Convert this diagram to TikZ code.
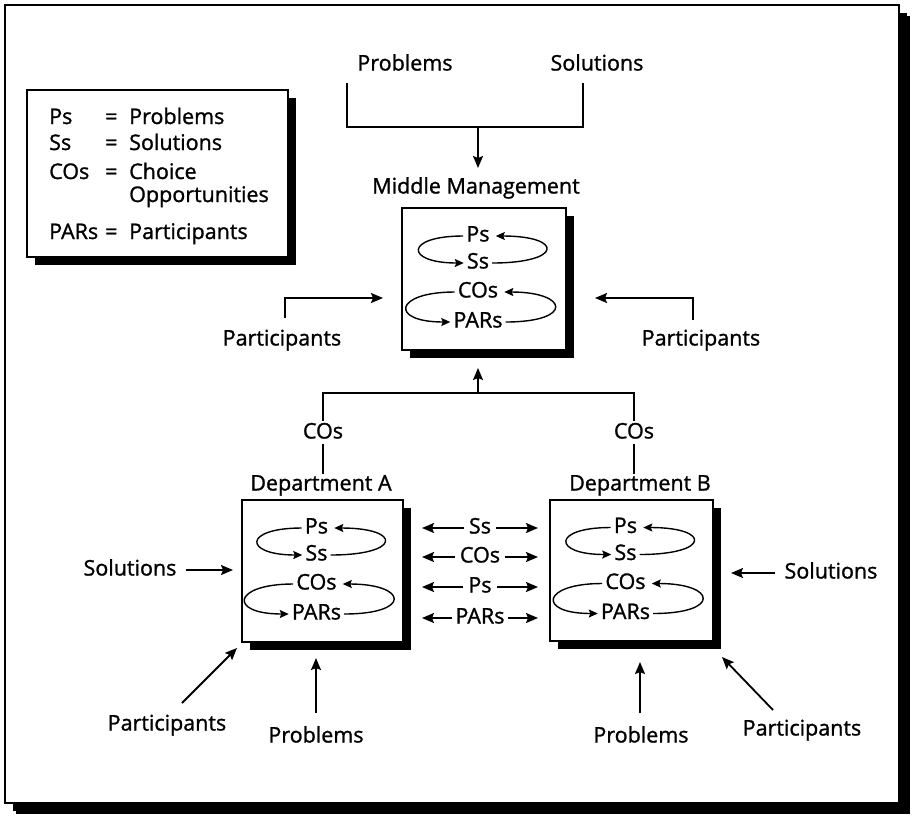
\documentclass[tikz,border=0pt]{standalone}
\usepackage{fontspec}
\setmainfont{Open Sans}[UprightFeatures={FakeBold=1.2}]
\usetikzlibrary{arrows.meta,calc,shadows}

% Ps/Ss and COs/PARs exchange loops inside a unit panel
% #1 = name prefix, #2 = panel node
\newcommand\cyclepair[2]{%
  \path (#2.center) ++(-6,-43) node[txt] (#1ps) {Ps}
        (#2.center) ++(-6,-16) node[txt] (#1ss) {Ss}
        (#2.center) ++(-6,13)  node[txt] (#1cos) {COs}
        (#2.center) ++(-6,43)  node[txt] (#1par) {PARs};
  \draw[cyc] (#1ps.west) .. controls +(-61,0) and +(-61,0) .. (#1ss.west);
  \draw[cyc, shorten >=5pt] (#1ss.east) .. controls +(73,0) and +(73,0) .. (#1ps.east);
  \draw[cyc] (#1cos.west) .. controls +(-63,0) and +(-63,0) .. (#1par.west);
  \draw[cyc, shorten >=5pt] (#1par.east) .. controls +(70,0) and +(70,0) .. (#1cos.east);
}

\begin{document}
\begin{tikzpicture}[x=1pt,y=-1pt,
  txt/.style={font=\fontsize{21.5}{24}\selectfont, inner sep=1pt,
              text height=15.5pt, text depth=4.5pt},
  plain/.style={line width=1.8pt},
  conn/.style={line width=1.8pt, -{Stealth[length=12pt,width=10pt,inset=2pt]}},
  cyc/.style={line width=1.4pt, shorten <=2pt, shorten >=2pt,
              -{Stealth[length=9pt,width=8pt,inset=1.5pt]}},
  panel/.style={draw, line width=2pt, fill=white, inner sep=0pt,
                drop shadow={shadow xshift=8pt, shadow yshift=-8pt,
                             fill=black, opacity=1}},
]
\useasboundingbox (0,0) rectangle (914,815);

% outer frame
\node[panel, minimum width=894pt, minimum height=798pt,
      drop shadow={shadow xshift=11pt, shadow yshift=-11pt, fill=black, opacity=1}]
      (frame) at (452,404) {};

% legend
\node[panel, minimum width=261pt, minimum height=167pt] (legend) at (157.5,173.5) {};
\node[txt, anchor=base west] (k1) at (48,124) {Ps};
\node[txt, anchor=base west] (e1) at (104,124) {=};
\node[txt, anchor=base west] (v1) at (128,124) {Problems};
\node[txt, anchor=base west] (k2) at (48,150) {Ss};
\node[txt, anchor=base west] (e2) at (104,150) {=};
\node[txt, anchor=base west] (v2) at (128,150) {Solutions};
\node[txt, anchor=base west] (k3) at (48,179) {COs};
\node[txt, anchor=base west] (e3) at (104,179) {=};
\node[txt, anchor=base west] (v3) at (128,179) {Choice};
\node[txt, anchor=base west] (v3b) at (128,202) {Opportunities};
\node[txt, anchor=base west] (k4) at (48,239) {PARs};
\node[txt, anchor=base west] (e4) at (104,239) {=};
\node[txt, anchor=base west] (v4) at (128,239) {Participants};

% middle management inputs from above
\node[txt] (topP) at (405,65) {Problems};
\node[txt] (topS) at (597,65) {Solutions};
\coordinate (pDrop) at (347,83);
\coordinate (sDrop) at (583,83);
\coordinate (topBar) at (478,127);
\coordinate (mmIn) at (478,168);
\draw[plain] (pDrop) |- (topBar) -| (sDrop);
\draw[conn] (topBar) -- (mmIn);

% middle management unit
\node[txt] (mmLbl) at (476,188) {Middle Management};
\node[panel, minimum width=164pt, minimum height=142pt] (mm) at (484,279) {};
\cyclepair{m}{mm}

% participants entering middle management
\node[txt] (parL) at (282,340) {Participants};
\coordinate (parLup) at (285,318);
\coordinate (mmL) at (383,298);
\draw[conn] (parLup) |- (mmL);
\node[txt] (parR) at (701,340) {Participants};
\coordinate (parRup) at (693,320);
\coordinate (mmR) at (595,298);
\draw[conn] (parRup) |- (mmR);

% choice opportunities passed upward by the departments
\node[txt] (cosA) at (323,433) {COs};
\node[txt] (cosB) at (634,433) {COs};
\coordinate (cosBar) at (478,393);
\coordinate (mmOut) at (478,368);
\draw[plain] ([yshift=1pt]cosA.north) |- (cosBar) -| ([yshift=1pt]cosB.north);
\draw[conn] (cosBar) -- (mmOut);

% departments
\node[txt] (dA) at (321,485) {Department A};
\node[txt] (dB) at (640,485) {Department B};
\draw[plain] (cosA.south) -- (cosA.south |- dA.north);
\draw[plain] (cosB.south) -- (cosB.south |- dB.north);
\node[panel, minimum width=161pt, minimum height=142pt] (pa) at (322.5,571) {};
\node[panel, minimum width=163pt, minimum height=141pt] (pb) at (631.5,570.5) {};
\cyclepair{a}{pa}
\cyclepair{b}{pb}

% exchanges between the two departments
\node[txt] (xSs) at (480,528) {Ss};
\node[txt] (xCOs) at (480,557) {COs};
\node[txt] (xPs) at (480,587) {Ps};
\node[txt] (xPARs) at (480,618) {PARs};
\coordinate (xSsL) at (422,528);   \coordinate (xSsR) at (538,528);
\coordinate (xCOsL) at (422,557);  \coordinate (xCOsR) at (538,557);
\coordinate (xPsL) at (422,587);   \coordinate (xPsR) at (538,587);
\coordinate (xPARsL) at (422,618); \coordinate (xPARsR) at (538,618);
\draw[conn, shorten <=4pt] (xSs.west) -- (xSsL);
\draw[conn, shorten <=4pt] (xSs.east) -- (xSsR);
\draw[conn, shorten <=4pt] (xCOs.west) -- (xCOsL);
\draw[conn, shorten <=4pt] (xCOs.east) -- (xCOsR);
\draw[conn, shorten <=4pt] (xPs.west) -- (xPsL);
\draw[conn, shorten <=4pt] (xPs.east) -- (xPsR);
\draw[conn, shorten <=2pt] (xPARs.west) -- (xPARsL);
\draw[conn, shorten <=2pt] (xPARs.east) -- (xPARsR);

% department A inputs
\node[txt] (solA) at (130,570) {Solutions};
\coordinate (solAin) at (233,570);
\draw[conn, shorten <=8pt] (solA.east) -- (solAin);
\node[txt] (parA) at (167,725) {Participants};
\coordinate (parAtail) at (182,703);
\coordinate (parAin) at (237,648);
\draw[conn] (parAtail) -- (parAin);
\node[txt] (probA) at (316,737) {Problems};
\coordinate (probAtail) at (316,713);
\coordinate (probAin) at (316,658);
\draw[conn] (probAtail) -- (probAin);

% department B inputs
\node[txt] (solB) at (831,573) {Solutions};
\coordinate (solBin) at (731,573);
\draw[conn, shorten <=8pt] (solB.west) -- (solBin);
\node[txt] (parB) at (802,730) {Participants};
\coordinate (parBtail) at (773,710);
\coordinate (parBin) at (722,657);
\draw[conn] (parBtail) -- (parBin);
\node[txt] (probB) at (641,737) {Problems};
\coordinate (probBtail) at (640,713);
\coordinate (probBin) at (640,662);
\draw[conn] (probBtail) -- (probBin);
\end{tikzpicture}
\end{document}
